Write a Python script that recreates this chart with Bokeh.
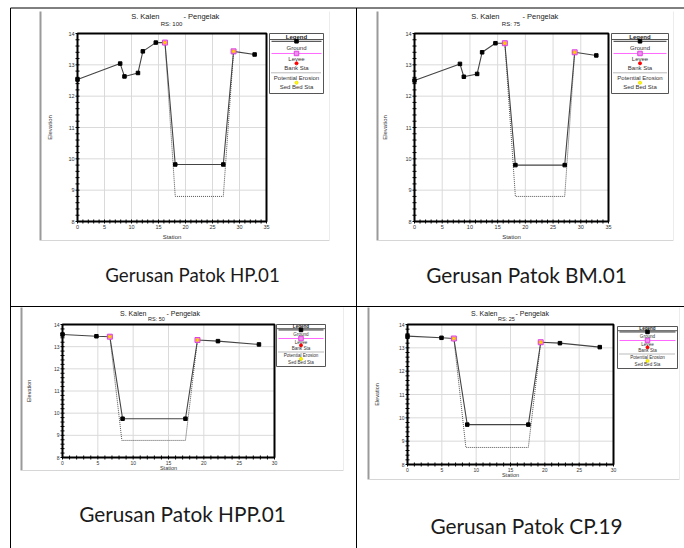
import numpy as np
from bokeh.plotting import figure
from bokeh.models import Range1d
from bokeh.core.properties import value
from bokeh.embed import file_html
from bokeh.resources import INLINE

# ---------------- data ----------------
TITLE_LEFT = "S. Kalen"
TITLE_RIGHT = "- Pengelak"
RS_LABELS = ["RS: 100", "RS: 75", "RS: 50", "RS: 25"]
CAPTIONS = ["Gerusan Patok HP.01", "Gerusan Patok BM.01",
            "Gerusan Patok HPP.01", "Gerusan Patok CP.19"]
X_LABEL = "Station"
Y_LABEL = "Elevation"
LEGEND_HEADER = "Legend"
LEGEND_LABELS = ["Ground", "Levee", "Bank Sta", "Potential Erosion", "Sed Bed Sta"]

Y_TICKS = [8, 9, 10, 11, 12, 13, 14]
X_TICKS_35 = [0, 5, 10, 15, 20, 25, 30, 35]
X_TICKS_30 = [0, 5, 10, 15, 20, 25, 30]

# RS 100
rs100_sta = [0.0, 7.9, 8.7, 11.2, 12.1, 14.5, 16.2, 18.1, 27.0, 28.9, 32.8]
rs100_elev = [12.53, 13.04, 12.63, 12.74, 13.43, 13.71, 13.71, 9.82, 9.82, 13.43, 13.33]
rs100_bank_sta = [16.2, 28.9]
rs100_bank_elev = [13.71, 13.43]
rs100_eros_sta = [16.2, 18.1, 27.0, 28.9]
rs100_eros_elev = [13.71, 8.8, 8.8, 13.43]

# RS 75
rs75_sta = [0.0, 8.2, 8.9, 11.3, 12.2, 14.6, 16.3, 18.2, 27.1, 28.9, 32.8]
rs75_elev = [12.5, 13.03, 12.62, 12.71, 13.4, 13.69, 13.69, 9.8, 9.8, 13.4, 13.3]
rs75_bank_sta = [16.3, 28.9]
rs75_bank_elev = [13.69, 13.4]
rs75_eros_sta = [16.3, 18.2, 27.1, 28.9]
rs75_eros_elev = [13.69, 8.8, 8.8, 13.4]

# RS 50
rs50_sta = [0.0, 4.8, 6.7, 8.5, 17.4, 19.1, 22.0, 27.8]
rs50_elev = [13.55, 13.47, 13.45, 9.75, 9.75, 13.3, 13.25, 13.1]
rs50_bank_sta = [6.7, 19.1]
rs50_bank_elev = [13.45, 13.3]
rs50_eros_sta = [6.7, 8.4, 17.4, 19.1]
rs50_eros_elev = [13.45, 8.77, 8.77, 13.3]

# RS 25
rs25_sta = [0.0, 4.95, 6.75, 8.7, 17.6, 19.4, 22.2, 28.0]
rs25_elev = [13.5, 13.43, 13.4, 9.71, 9.71, 13.24, 13.2, 13.03]
rs25_bank_sta = [6.75, 19.4]
rs25_bank_elev = [13.4, 13.24]
rs25_eros_sta = [6.75, 8.5, 17.6, 19.4]
rs25_eros_elev = [13.4, 8.73, 8.73, 13.24]

# ---------------- layout (page pixel coordinates) ----------------
W, H = 684, 548
CX0, CX1, CY0, CY1 = 0, W, 0, H  # canvas in page coordinates

p = figure(width=W, height=H, output_backend="svg", toolbar_location=None,
           x_axis_location=None, y_axis_location=None, min_border=0,
           x_range=Range1d(CX0, CX1), y_range=Range1d(CY1, CY0))
p.min_border_left = p.min_border_right = p.min_border_top = p.min_border_bottom = 0
p.outline_line_color = None
p.background_fill_color = "white"
p.border_fill_color = "white"
p.xgrid.visible = False
p.ygrid.visible = False

CHART_FONT = value("Liberation Sans")

# table lines
p.segment(x0=[10, 10, 10, 356], y0=[7.5, 306, 7.5, 7.5], x1=[684, 684, 10, 356], y1=[7.5, 306, 548, 548],
          line_color="black", line_width=1)

# screenshot edges (left darker, bottom lighter)
SHOTS = [(40, 11, 329, 240), (377, 11, 673, 240), (21, 307, 343, 470), (368, 307, 679, 479)]
for (l, t, r, b) in SHOTS:
    p.segment(x0=[l], y0=[t], x1=[l], y1=[b], line_color="#9a9a9a", line_width=2)
    p.segment(x0=[l], y0=[b], x1=[r], y1=[b], line_color="#d6d6d6", line_width=1)
    p.segment(x0=[r], y0=[t], x1=[r], y1=[b], line_color="#ececec", line_width=1)

FRAMES = [(77, 266, 33, 221), (414, 608, 33, 221), (62, 274, 324, 457), (407, 613, 324, 464)]
XLIMS = [(0, 35), (0, 35), (0, 30), (0, 30)]
YLIM = (8, 14)
TITLE_POS = [(159, 183, 16, 23), (499, 522, 16, 23), (146, 166, 312.5, 318), (497, 515, 312.5, 318)]
YLABEL_OFF = [-28, -30, -34, -31]
XLABEL_OFF = [15, 15, 10.5, 10.5]
LEGENDS = [(269, 33, 54, 60), (611, 33, 57, 60), (276, 324, 49, 42), (617, 326, 60, 42)]
FS_TITLE = ["7.5px", "7.5px", "7px", "7px"]
FS_RS = ["6px", "6px", "5.5px", "5.5px"]
FS_TICK = ["5.5px", "5.5px", "5px", "5px"]
FS_LAB = ["6px", "6px", "5.5px", "5.5px"]
FS_LEG = ["6px", "6px", "4.6px", "4.6px"]
CAP_POS = [(192, 274, "18.7px"), (526, 274, "20.8px"), (182, 513, "20.8px"), (526, 525, "20.8px")]

PANELS = [
    (rs100_sta, rs100_elev, rs100_bank_sta, rs100_bank_elev, rs100_eros_sta, rs100_eros_elev, X_TICKS_35),
    (rs75_sta, rs75_elev, rs75_bank_sta, rs75_bank_elev, rs75_eros_sta, rs75_eros_elev, X_TICKS_35),
    (rs50_sta, rs50_elev, rs50_bank_sta, rs50_bank_elev, rs50_eros_sta, rs50_eros_elev, X_TICKS_30),
    (rs25_sta, rs25_elev, rs25_bank_sta, rs25_bank_elev, rs25_eros_sta, rs25_eros_elev, X_TICKS_30),
]


def draw_legend(box, fs):
    l, t, w, h = box
    cx = l + w / 2.0
    fy = lambda f: t + f * h
    p.quad(left=[l], right=[l + w], top=[t], bottom=[t + h], fill_color="white",
           line_color="#555555", line_width=1)
    p.segment(x0=[l], y0=[fy(0.10)], x1=[l + w], y1=[fy(0.10)], line_color="#555555", line_width=1)
    p.text(x=[cx], y=[fy(0.055)], text=[LEGEND_HEADER], text_font=CHART_FONT, text_font_size=fs,
           text_font_style="bold", text_align="center", text_baseline="middle", text_color="#222222")
    # sample symbols
    p.segment(x0=[l + 2], y0=[fy(0.13)], x1=[l + w - 2], y1=[fy(0.13)], line_color="#333333", line_width=1)
    p.scatter(x=[cx], y=[fy(0.13)], marker="square", size=3.5, fill_color="black", line_color="black")
    p.segment(x0=[l + 2], y0=[fy(0.333)], x1=[l + w - 2], y1=[fy(0.333)], line_color="#ff66ff", line_width=1)
    p.scatter(x=[cx], y=[fy(0.333)], marker="square", size=4.5, fill_color="#f08cf0", line_color="#dd44dd")
    p.scatter(x=[cx], y=[fy(0.497)], marker="circle", size=3, fill_color="red", line_color="red")
    p.segment(x0=[l + 2], y0=[fy(0.655)], x1=[l + w - 2], y1=[fy(0.655)], line_color="#777777",
              line_width=1, line_dash="1 1")
    p.scatter(x=[cx], y=[fy(0.82)], marker="circle", size=3, fill_color="#ffff00", line_color="#f0e000")
    ys = [fy(f) for f in (0.245, 0.42, 0.575, 0.74, 0.895)]
    p.text(x=[cx] * 5, y=ys, text=LEGEND_LABELS, text_font=CHART_FONT, text_font_size=fs,
           text_align="center", text_baseline="middle", text_color="#333333")


for i, (sta, elev, bsta, belev, esta, eelev, xticks) in enumerate(PANELS):
    L, R, T, B = FRAMES[i]
    x0, x1 = XLIMS[i]
    y0, y1 = YLIM
    sx = (R - L) / (x1 - x0)
    sy = (B - T) / (y1 - y0)
    xn, yn = f"x{i}", f"y{i}"
    p.extra_x_ranges[xn] = Range1d(x0 + (CX0 - L) / sx, x0 + (CX1 - L) / sx)
    p.extra_y_ranges[yn] = Range1d(y1 - (CY1 - T) / sy, y1 - (CY0 - T) / sy)
    kw = dict(x_range_name=xn, y_range_name=yn)

    # frame background + grid
    p.quad(left=[x0], right=[x1], bottom=[y0], top=[y1], fill_color="white", line_color=None, **kw)
    gx = xticks[1:-1]
    gy = Y_TICKS[1:-1]
    p.segment(x0=gx, y0=y0, x1=gx, y1=y1, line_color="#dadada", line_width=1, **kw)
    p.segment(x0=x0, y0=gy, x1=x1, y1=gy, line_color="#dadada", line_width=1, **kw)

    # data
    p.line(esta, eelev, line_color="#555555", line_width=1, line_dash="1 1", **kw)
    p.line(sta, elev, line_color="#444444", line_width=1.1, **kw)
    p.scatter(sta, elev, marker="square", size=3.5, fill_color="black", line_color="black", **kw)
    p.scatter(bsta, belev, marker="square", size=5, fill_color="#f590f5", line_color="#dd44dd", **kw)
    p.scatter(bsta, belev, marker="circle", size=2.8, fill_color="#ffe600", line_color="#ffaa00", **kw)

    # frame
    p.quad(left=[x0], right=[x1], bottom=[y0], top=[y1], fill_color=None, line_color="black",
           line_width=2, **kw)
    # minor ticks
    mx = [v for v in range(x0, x1 + 1)]
    my = [y0 + k * 0.2 for k in range(int(round((y1 - y0) / 0.2)) + 1)]
    p.scatter(x=mx, y=[y0] * len(mx), marker="dash", angle=np.pi / 2, size=4, line_color="black",
              line_width=1, **kw)
    p.scatter(x=[x0] * len(my), y=my, marker="dash", size=4, line_color="black", line_width=1, **kw)

    # tick labels
    p.text(x=xticks, y=[y0] * len(xticks), text=[str(t) for t in xticks], text_font=CHART_FONT,
           text_font_size=FS_TICK[i], text_align="center", text_baseline="top", y_offset=3,
           text_color="#333333", **kw)
    p.text(x=[x0] * len(Y_TICKS), y=Y_TICKS, text=[str(t) for t in Y_TICKS], text_font=CHART_FONT,
           text_font_size=FS_TICK[i], text_align="right", text_baseline="middle", x_offset=-3,
           text_color="#333333", **kw)
    # axis labels
    p.text(x=[(x0 + x1) / 2.0], y=[y0], text=[X_LABEL], text_font=CHART_FONT, text_font_size=FS_LAB[i],
           text_align="center", text_baseline="middle", y_offset=XLABEL_OFF[i], text_color="#333333", **kw)
    p.text(x=[x0], y=[(y0 + y1) / 2.0], text=[Y_LABEL], text_font=CHART_FONT, text_font_size=FS_LAB[i],
           text_align="center", text_baseline="middle", angle=np.pi / 2, x_offset=YLABEL_OFF[i],
           text_color="#333333", **kw)

    # titles
    tl, tr, ty, ry = TITLE_POS[i]
    p.text(x=[tl], y=[ty], text=[TITLE_LEFT], text_font=CHART_FONT, text_font_size=FS_TITLE[i],
           text_align="right", text_baseline="middle", text_color="#222222")
    p.text(x=[tr], y=[ty], text=[TITLE_RIGHT], text_font=CHART_FONT, text_font_size=FS_TITLE[i],
           text_align="left", text_baseline="middle", text_color="#222222")
    p.text(x=[(tl + tr) / 2.0], y=[ry], text=[RS_LABELS[i]], text_font=CHART_FONT, text_font_size=FS_RS[i],
           text_align="center", text_baseline="middle", text_color="#222222")

    draw_legend(LEGENDS[i], FS_LEG[i])

    cx, cy, cfs = CAP_POS[i]
    p.text(x=[cx], y=[cy], text=[CAPTIONS[i]], text_font=value("Lato"), text_font_size=cfs,
           text_align="center", text_baseline="middle", text_color="#1a1a1a")

open("out.html", "w").write(file_html(p, INLINE))
